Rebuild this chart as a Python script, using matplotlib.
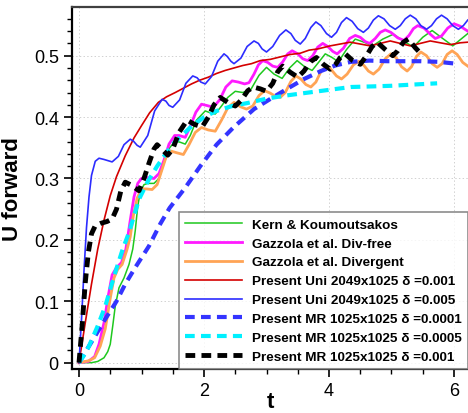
import matplotlib
matplotlib.use("Agg")
import matplotlib.pyplot as plt
from matplotlib import ticker

plt.rcParams['font.family'] = ['Liberation Sans', 'DejaVu Sans']
plt.rcParams['lines.scale_dashes'] = False

# ---- data ----
# Kern & Koumoutsakos
t_kern = [0, 0.2, 0.3, 0.4, 0.46, 0.5, 0.54, 0.58, 0.64, 0.72, 0.8, 0.86, 0.9, 0.94, 0.98,
          1.04, 1.1, 1.2, 1.28, 1.36, 1.45, 1.54, 1.62, 1.7, 1.78, 1.88, 2.02, 2.1, 2.18,
          2.28, 2.38, 2.5, 2.62, 2.75, 2.88, 3.0, 3.12, 3.25, 3.37, 3.49, 3.61, 3.73, 3.84,
          3.94, 4.05, 4.15, 4.28, 4.42, 4.56, 4.7, 4.86, 5.03, 5.19, 5.35, 5.5, 5.65, 5.82,
          5.98, 6.1, 6.22]
u_kern = [0, 0.0, 0.002, 0.008, 0.018, 0.03, 0.06, 0.092, 0.122, 0.138, 0.16, 0.185, 0.215,
          0.255, 0.278, 0.29, 0.292, 0.292, 0.3, 0.325, 0.35, 0.361, 0.359, 0.356, 0.37, 0.395,
          0.41, 0.407, 0.405, 0.418, 0.432, 0.442, 0.44, 0.445, 0.468, 0.481, 0.47, 0.463,
          0.48, 0.492, 0.482, 0.476, 0.49, 0.503, 0.497, 0.49, 0.51, 0.527, 0.522, 0.516,
          0.527, 0.535, 0.524, 0.514, 0.53, 0.541, 0.528, 0.516, 0.526, 0.536]

# Gazzola et al. Div-free
t_gdf = [0, 0.15, 0.25, 0.32, 0.4, 0.47, 0.53, 0.6, 0.68, 0.75, 0.82, 0.88, 0.94, 1.0, 1.05,
         1.12, 1.2, 1.28, 1.36, 1.44, 1.53, 1.6, 1.7, 1.78, 1.87, 1.96, 2.04, 2.15, 2.25,
         2.35, 2.45, 2.55, 2.65, 2.72, 2.8, 2.87, 2.94, 3.02, 3.1, 3.18, 3.26, 3.34, 3.41,
         3.5, 3.58, 3.66, 3.74, 3.82, 3.9, 3.98, 4.06, 4.13, 4.23, 4.33, 4.42, 4.5, 4.58,
         4.65, 4.74, 4.82, 4.9, 4.99, 5.1, 5.2, 5.28, 5.35, 5.42, 5.52, 5.62, 5.7, 5.8, 5.9,
         6.0, 6.1, 6.22]
u_gdf = [0, 0.002, 0.01, 0.03, 0.065, 0.11, 0.143, 0.155, 0.163, 0.185, 0.232, 0.27, 0.292,
         0.3, 0.302, 0.301, 0.3, 0.308, 0.33, 0.356, 0.37, 0.37, 0.367, 0.385, 0.408, 0.421,
         0.419, 0.416, 0.428, 0.449, 0.459, 0.457, 0.454, 0.456, 0.47, 0.485, 0.492, 0.489,
         0.483, 0.481, 0.49, 0.503, 0.508, 0.503, 0.495, 0.492, 0.5, 0.514, 0.52, 0.515,
         0.507, 0.503, 0.512, 0.528, 0.533, 0.53, 0.523, 0.52, 0.528, 0.538, 0.542, 0.538,
         0.529, 0.525, 0.533, 0.544, 0.549, 0.545, 0.535, 0.528, 0.532, 0.545, 0.552, 0.548,
         0.54]

# Gazzola et al. Divergent
t_gdv = [0, 0.15, 0.25, 0.34, 0.42, 0.5, 0.56, 0.62, 0.69, 0.77, 0.82, 0.87, 0.93, 1.0,
         1.08, 1.17, 1.25, 1.33, 1.4, 1.46, 1.56, 1.67, 1.76, 1.86, 1.96, 2.07, 2.18, 2.28,
         2.38, 2.48, 2.58, 2.68, 2.78, 2.88, 2.97, 3.06, 3.14, 3.22, 3.3, 3.39, 3.47, 3.55,
         3.63, 3.71, 3.79, 3.87, 3.95, 4.03, 4.12, 4.2, 4.29, 4.39, 4.48, 4.56, 4.63, 4.71,
         4.8, 4.9, 4.99, 5.08, 5.16, 5.25, 5.32, 5.4, 5.47, 5.56, 5.65, 5.73, 5.81, 5.89,
         5.97, 6.05, 6.14, 6.22]
u_gdv = [0, 0.003, 0.008, 0.027, 0.055, 0.105, 0.138, 0.152, 0.16, 0.185, 0.205, 0.24,
         0.268, 0.283, 0.283, 0.282, 0.29, 0.315, 0.337, 0.345, 0.342, 0.339, 0.355, 0.375,
         0.383, 0.379, 0.377, 0.395, 0.415, 0.424, 0.417, 0.413, 0.418, 0.435, 0.443, 0.439,
         0.434, 0.432, 0.44, 0.458, 0.467, 0.462, 0.453, 0.449, 0.457, 0.474, 0.483, 0.478,
         0.467, 0.462, 0.47, 0.485, 0.491, 0.484, 0.475, 0.47, 0.478, 0.495, 0.503, 0.496,
         0.482, 0.475, 0.482, 0.499, 0.506, 0.5, 0.487, 0.481, 0.487, 0.502, 0.508, 0.502,
         0.489, 0.483]

# Present Uni 2049x1025, delta = 0.001
t_uni1 = [0, 0.1, 0.2, 0.3, 0.4, 0.5, 0.6, 0.74, 0.88, 1.0, 1.13, 1.27, 1.4, 1.54, 1.67, 1.8,
          1.93, 2.07, 2.2, 2.34, 2.48, 2.62, 2.76, 2.9, 3.06, 3.22, 3.38, 3.54, 3.68, 3.82,
          4.02, 4.18, 4.34, 4.5, 4.66, 4.82, 4.98, 5.14, 5.3, 5.46, 5.62, 5.78, 5.94, 6.1, 6.22]
u_uni1 = [0, 0.065, 0.128, 0.185, 0.232, 0.272, 0.303, 0.337, 0.366, 0.386, 0.407, 0.424,
          0.433, 0.44, 0.447, 0.454, 0.46, 0.465, 0.471, 0.476, 0.48, 0.484, 0.487, 0.492,
          0.494, 0.498, 0.502, 0.504, 0.509, 0.511, 0.516, 0.519, 0.522, 0.519, 0.516, 0.52,
          0.524, 0.52, 0.516, 0.52, 0.524, 0.521, 0.518, 0.521, 0.522]

# Present Uni 2049x1025, delta = 0.005
t_uni5 = [0, 0.04, 0.08, 0.12, 0.16, 0.2, 0.26, 0.32, 0.4, 0.53, 0.63, 0.72, 0.82, 0.87, 0.93,
          0.98, 1.1, 1.21, 1.33, 1.39, 1.44, 1.5, 1.61, 1.71, 1.82, 1.89, 1.95, 2.02, 2.12,
          2.22, 2.32, 2.37, 2.43, 2.48, 2.59, 2.69, 2.8, 2.87, 2.93, 3.0, 3.1, 3.21, 3.31,
          3.39, 3.46, 3.54, 3.62, 3.71, 3.79, 3.87, 3.96, 4.04, 4.12, 4.2, 4.28, 4.37, 4.46,
          4.55, 4.63, 4.71, 4.79, 4.88, 4.97, 5.06, 5.14, 5.22, 5.3, 5.39, 5.47, 5.56, 5.64,
          5.72, 5.8, 5.89, 5.98, 6.07, 6.15, 6.22]
u_uni5 = [0, 0.07, 0.15, 0.22, 0.27, 0.305, 0.328, 0.333, 0.331, 0.327, 0.336, 0.355, 0.364,
          0.361, 0.354, 0.351, 0.37, 0.41, 0.429, 0.426, 0.419, 0.416, 0.428, 0.455, 0.467,
          0.464, 0.457, 0.454, 0.466, 0.491, 0.503, 0.499, 0.491, 0.487, 0.496, 0.515, 0.524,
          0.52, 0.511, 0.506, 0.515, 0.533, 0.542, 0.536, 0.525, 0.519, 0.528, 0.546, 0.555,
          0.549, 0.536, 0.53, 0.538, 0.554, 0.562, 0.556, 0.544, 0.538, 0.545, 0.558, 0.565,
          0.56, 0.549, 0.543, 0.549, 0.56, 0.566, 0.56, 0.549, 0.543, 0.549, 0.56, 0.566,
          0.56, 0.549, 0.543, 0.549, 0.558]

# Present MR 1025x1025, delta = 0.0001
t_mr01 = [0, 0.1, 0.25, 0.42, 0.6, 0.74, 0.9, 1.12, 1.3, 1.45, 1.7, 1.94, 2.2, 2.47, 2.8,
          3.1, 3.33, 3.6, 3.87, 4.1, 4.35, 4.65, 4.93, 5.2, 5.47, 5.75, 6.03]
u_mr01 = [0, 0.017, 0.042, 0.071, 0.1, 0.128, 0.155, 0.19, 0.226, 0.252, 0.285, 0.32,
          0.355, 0.383, 0.413, 0.432, 0.446, 0.462, 0.475, 0.484, 0.49, 0.492, 0.491, 0.491,
          0.491, 0.49, 0.487]

# Present MR 1025x1025, delta = 0.0005
t_mr05 = [0, 0.08, 0.16, 0.3, 0.42, 0.58, 0.7, 0.8, 0.96, 1.1, 1.25, 1.49, 1.8, 2.0, 2.2,
          2.45, 2.7, 3.0, 3.3, 3.6, 3.9, 4.35, 4.7, 5.0, 5.35, 5.73]
u_mr05 = [0, 0.012, 0.027, 0.06, 0.092, 0.147, 0.185, 0.212, 0.266, 0.295, 0.32, 0.355,
          0.385, 0.4, 0.41, 0.418, 0.423, 0.43, 0.435, 0.439, 0.443, 0.449, 0.45, 0.451,
          0.453, 0.455]

# Present MR 1025x1025, delta = 0.001
t_mr1 = [0, 0.05, 0.1, 0.15, 0.2, 0.26, 0.35, 0.45, 0.53, 0.6, 0.67, 0.74, 0.84, 0.96, 1.04,
         1.12, 1.2, 1.25, 1.33, 1.42, 1.5, 1.6, 1.73, 1.85, 1.97, 2.07, 2.16, 2.26, 2.38, 2.5,
         2.6, 2.7, 2.79, 2.9, 3.0, 3.1, 3.18, 3.26, 3.38, 3.5, 3.6, 3.7, 3.8, 3.91, 4.02,
         4.1, 4.18, 4.26, 4.38, 4.5, 4.6, 4.69, 4.77, 4.9, 5.02, 5.1, 5.19, 5.27, 5.38, 5.5]
u_mr1 = [0, 0.06, 0.13, 0.18, 0.21, 0.223, 0.227, 0.23, 0.234, 0.25, 0.28, 0.294, 0.289,
         0.28, 0.3, 0.325, 0.348, 0.355, 0.347, 0.338, 0.348, 0.375, 0.395, 0.388, 0.384, 0.4,
         0.42, 0.432, 0.424, 0.418, 0.428, 0.443, 0.449, 0.446, 0.442, 0.455, 0.474, 0.483,
         0.473, 0.465, 0.475, 0.49, 0.497, 0.486, 0.478, 0.485, 0.497, 0.503, 0.492, 0.486,
         0.5, 0.515, 0.522, 0.51, 0.5, 0.508, 0.522, 0.527, 0.513, 0.5]

labels = ["Kern & Koumoutsakos",
          "Gazzola et al. Div-free",
          "Gazzola et al. Divergent",
          "Present Uni 2049x1025 \u03b4 =0.001",
          "Present Uni 2049x1025 \u03b4 =0.005",
          "Present MR 1025x1025 \u03b4 =0.0001",
          "Present MR 1025x1025 \u03b4 =0.0005",
          "Present MR 1025x1025 \u03b4 =0.001"]

fig = plt.figure(figsize=(4.68, 4.14), dpi=100)
ax = fig.add_axes([72 / 468, 44 / 414, 396 / 468, 362 / 414])

dash = (0, (7, 4.5))
ax.plot(t_kern, u_kern, color="#1ec81e", lw=1.1, label=labels[0])
ax.plot(t_gdf, u_gdf, color="#ff1aff", lw=2.0, label=labels[1])
ax.plot(t_gdv, u_gdv, color="#ffa455", lw=2.0, label=labels[2])
ax.plot(t_uni1, u_uni1, color="#d40000", lw=1.2, label=labels[3])
ax.plot(t_uni5, u_uni5, color="#2c2cff", lw=1.2, label=labels[4])
ax.plot(t_mr01, u_mr01, color="#3434ff", lw=3.0, ls=dash, label=labels[5])
ax.plot(t_mr05, u_mr05, color="#00f0ff", lw=3.0, ls=dash, label=labels[6])
ax.plot(t_mr1, u_mr1, color="black", lw=3.5, ls=dash, label=labels[7])

ax.set_xlim(-0.112, 6.224)
ax.set_ylim(-0.0103, 0.5793)
ax.xaxis.set_major_locator(ticker.MultipleLocator(2))
ax.xaxis.set_minor_locator(ticker.MultipleLocator(0.5))
ax.yaxis.set_major_locator(ticker.MultipleLocator(0.1))
ax.yaxis.set_minor_locator(ticker.MultipleLocator(0.02))
ax.xaxis.set_major_formatter(ticker.FormatStrFormatter('%g'))
ax.yaxis.set_major_formatter(ticker.FormatStrFormatter('%g'))
ax.tick_params(which='major', direction='out', length=6, width=1.2, labelsize=13)
ax.tick_params(which='minor', direction='out', length=3.5, width=1.0)
ax.grid(True, which='major', ls=':', color='#d0d0d0', lw=0.7)

for side in ['left', 'bottom']:
    ax.spines[side].set_linewidth(1.6)
ax.spines['top'].set_linewidth(1.6)
ax.spines['top'].set_color('#404040')
ax.spines['right'].set_visible(False)

ax.set_xlabel("t", fontsize=16, fontweight='bold', labelpad=-6)
ax.set_ylabel("U forward", fontsize=16, fontweight='bold', labelpad=8)

leg = ax.legend(loc='lower right', bbox_to_anchor=(1.0, 0.0), borderaxespad=0,
                fancybox=False, frameon=True, handlelength=4.2, handletextpad=0.75,
                labelspacing=0.48, borderpad=0.45, prop={'weight': 'bold', 'size': 9.7})
leg.get_frame().set_edgecolor('#707070')
leg.get_frame().set_linewidth(1.2)

fig.savefig("out.png", dpi=100)
